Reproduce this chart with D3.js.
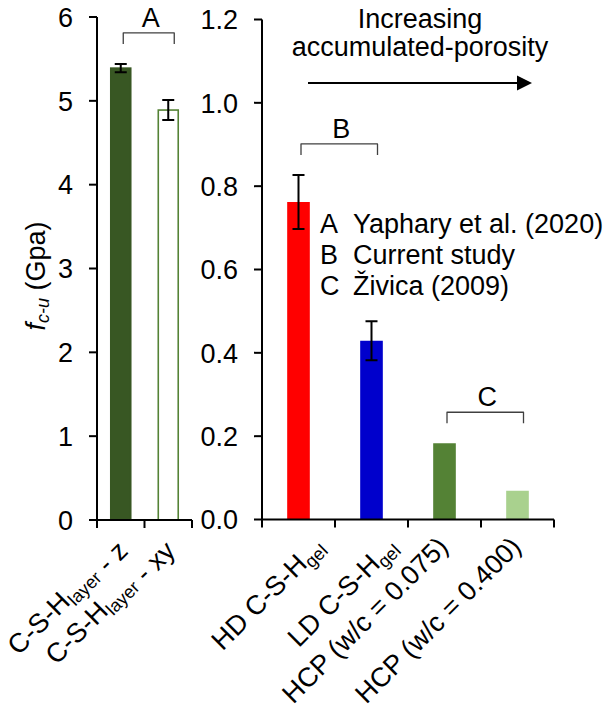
<!DOCTYPE html>
<html>
<head>
<meta charset="utf-8">
<script src="https://cdn.jsdelivr.net/npm/d3@7"></script>
<style>
  body { margin: 0; background: #fff; }
  text { font-family: 'Liberation Sans', Arial, sans-serif; fill: #000; }
</style>
</head>
<body>
<div id="chart"><svg></svg></div>
<script>
// left panel: C-S-H layer (GPa scale 0-6)
const leftCategories = ['C-S-H_{layer} - z', 'C-S-H_{layer} - xy'];
const leftValues = [5.39, 4.89];
const leftErrors = [0.05, 0.12];
const leftTicks = [0, 1, 2, 3, 4, 5, 6];

// right panel: gel / paste (scale 0-1.2)
const rightCategories = ['HD C-S-H_{gel}', 'LD C-S-H_{gel}', 'HCP (w/c = 0.075)', 'HCP (w/c = 0.400)'];
const rightValues = [0.762, 0.429, 0.183, 0.069];
const rightErrors = [0.065, 0.047, null, null];
const rightTicks = [0, 0.2, 0.4, 0.6, 0.8, 1.0, 1.2];

// source groups (bracket letters + legend)
const groupLetters = ['A', 'B', 'C'];
const groupSources = ['Yaphary et al. (2020)', 'Current study', 'Živica (2009)'];
const groupPanels = ['left', 'right', 'right'];
const groupSpans = [[0, 1], [0, 1], [2, 3]];

const leftColors = ['#385723', '#ffffff'];
const leftStrokes = ['#385723', '#548235'];
const rightColors = ['#ff0000', '#0000cc', '#548235', '#a9d18e'];

(function() {
  const width = 605;
  const height = 713;
  const fontSize = 27;
  const subSize = 18;

  const svg = d3.select('#chart svg')
    .attr('width', width)
    .attr('height', height);

  const panels = {
    left: {
      x: d3.scaleBand().domain(leftCategories).range([97, 192]),
      y: d3.scaleLinear().domain([0, 6]).range([520, 17]),
      barRatio: 0.42,
      ticks: leftTicks,
      fmt: d3.format('d'),
      values: leftValues,
      errors: leftErrors
    },
    right: {
      x: d3.scaleBand().domain(rightCategories).range([262, 554]),
      y: d3.scaleLinear().domain([0, 1.2]).range([519.5, 19.5]),
      barRatio: 0.31,
      ticks: rightTicks,
      fmt: d3.format('.1f'),
      values: rightValues,
      errors: rightErrors
    }
  };

  function center(p, i) {
    return p.x(p.x.domain()[i]) + p.x.bandwidth() / 2;
  }

  // write "abc_{sub} def" as tspans
  function richText(sel, str, italic) {
    const parts = str.split(/(_\{[^}]*\})/).filter(function(s) { return s.length; });
    parts.forEach(function(s) {
      if (s.startsWith('_{')) {
        sel.append('tspan').attr('dy', 5).style('font-size', subSize + 'px')
          .style('font-style', italic ? 'italic' : null)
          .text(s.slice(2, -1));
        sel.append('tspan').attr('dy', -5).text('');
      } else {
        sel.append('tspan').text(s);
      }
    });
    return parts;
  }

  Object.keys(panels).forEach(function(key) {
    const p = panels[key];
    const g = svg.append('g').attr('class', 'panel-' + key);
    const x0 = p.x.range()[0];
    const x1 = p.x.range()[1];
    const y0 = p.y(0);

    // bars
    g.selectAll('rect')
      .data(p.values)
      .enter()
      .append('rect')
      .attr('x', function(d, i) { return center(p, i) - p.x.bandwidth() * p.barRatio / 2; })
      .attr('y', function(d) { return p.y(d); })
      .attr('width', p.x.bandwidth() * p.barRatio)
      .attr('height', function(d) { return y0 - p.y(d); })
      .attr('fill', function(d, i) { return key === 'left' ? leftColors[i] : rightColors[i]; })
      .attr('stroke', function(d, i) { return key === 'left' ? leftStrokes[i] : 'none'; })
      .attr('stroke-width', 1.6);

    // error bars
    const err = g.append('g').attr('class', 'errors');
    p.values.forEach(function(v, i) {
      const e = p.errors[i];
      if (e == null) return;
      const cx = center(p, i);
      const path = d3.path();
      path.moveTo(cx, p.y(v - e)); path.lineTo(cx, p.y(v + e));
      path.moveTo(cx - 6, p.y(v + e)); path.lineTo(cx + 6, p.y(v + e));
      path.moveTo(cx - 6, p.y(v - e)); path.lineTo(cx + 6, p.y(v - e));
      err.append('path').attr('d', path.toString())
        .attr('stroke', '#000').attr('stroke-width', 2).attr('fill', 'none');
    });

    // y axis
    g.append('line')
      .attr('x1', x0).attr('x2', x0)
      .attr('y1', p.y(p.ticks[p.ticks.length - 1])).attr('y2', y0)
      .attr('stroke', '#000').attr('stroke-width', 2);
    g.selectAll('.ytick')
      .data(p.ticks)
      .enter()
      .append('line')
      .attr('class', 'ytick')
      .attr('x1', x0 - 8).attr('x2', x0)
      .attr('y1', function(d) { return p.y(d); })
      .attr('y2', function(d) { return p.y(d); })
      .attr('stroke', '#000').attr('stroke-width', 2);
    g.selectAll('.ylabel')
      .data(p.ticks)
      .enter()
      .append('text')
      .attr('class', 'ylabel')
      .attr('x', x0 - 24)
      .attr('y', function(d) { return p.y(d); })
      .attr('dy', '0.36em')
      .attr('text-anchor', 'end')
      .style('font-size', fontSize + 'px')
      .text(function(d) { return p.fmt(d); });

    // x axis with ticks at band edges
    g.append('line')
      .attr('x1', x0).attr('x2', x1)
      .attr('y1', y0).attr('y2', y0)
      .attr('stroke', '#000').attr('stroke-width', 2);
    const edges = d3.range(p.x.domain().length + 1).map(function(i) { return x0 + i * p.x.step(); });
    g.selectAll('.xtick')
      .data(edges)
      .enter()
      .append('line')
      .attr('class', 'xtick')
      .attr('x1', function(d) { return d; }).attr('x2', function(d) { return d; })
      .attr('y1', y0).attr('y2', y0 + 8)
      .attr('stroke', '#000').attr('stroke-width', 2);

    // rotated category labels
    p.x.domain().forEach(function(c, i) {
      const endsSub = /\}$/.test(c);
      const t = g.append('text')
        .attr('text-anchor', 'end')
        .style('font-size', fontSize + 'px')
        .attr('transform', 'translate(' + (center(p, i) + 5 + (endsSub ? 22 : 0)) + ',' + (y0 + 29) + ') rotate(-45)');
      richText(t, c, false);
    });
  });

  // brackets over source groups
  const brackets = svg.append('g').attr('class', 'brackets');
  groupLetters.forEach(function(letter, k) {
    const p = panels[groupPanels[k]];
    const span = groupSpans[k];
    let top = Infinity;
    for (let i = span[0]; i <= span[1]; i++) {
      top = Math.min(top, p.y(p.values[i] + (p.errors[i] || 0)));
    }
    const by = top - 31;
    const bx0 = center(p, span[0]) + 2.5;
    const bx1 = center(p, span[1]) + 6;
    brackets.append('path')
      .attr('d', 'M' + bx0 + ',' + (by + 11) + 'V' + by + 'H' + bx1 + 'V' + (by + 11))
      .attr('fill', 'none')
      .attr('stroke', '#404040')
      .attr('stroke-width', 1.3)
      .attr('stroke-linejoin', 'round');
    brackets.append('text')
      .attr('x', (bx0 + bx1) / 2 + 2)
      .attr('y', by - 6)
      .attr('text-anchor', 'middle')
      .style('font-size', fontSize + 'px')
      .text(letter);
  });

  // legend of sources
  const legend = svg.append('g').attr('class', 'legend');
  groupLetters.forEach(function(letter, k) {
    const t = legend.append('text')
      .attr('y', 233 + k * 31)
      .style('font-size', fontSize + 'px');
    t.append('tspan').attr('x', 320).text(letter);
    t.append('tspan').attr('x', 353).text(groupSources[k]);
  });

  // porosity arrow
  const pr = panels.right;
  const ax0 = pr.x.range()[0] + 46;
  const ax1 = pr.x.range()[1] - 22;
  const ay = 83;
  svg.append('line')
    .attr('x1', ax0).attr('x2', ax1 - 14)
    .attr('y1', ay).attr('y2', ay)
    .attr('stroke', '#000').attr('stroke-width', 1.8);
  svg.append('path')
    .attr('d', 'M' + (ax1 - 15) + ',' + (ay - 7.5) + 'L' + ax1 + ',' + ay + 'L' + (ax1 - 15) + ',' + (ay + 7.5) + 'Z')
    .attr('fill', '#000');
  const ac = (ax0 + ax1) / 2;
  svg.append('text').attr('x', ac).attr('y', 28).attr('text-anchor', 'middle')
    .style('font-size', fontSize + 'px').text('Increasing');
  svg.append('text').attr('x', ac).attr('y', 56).attr('text-anchor', 'middle')
    .style('font-size', fontSize + 'px').text('accumulated-porosity');

  // y axis title
  const yt = svg.append('text')
    .attr('text-anchor', 'middle')
    .attr('transform', 'translate(45,276) rotate(-90)')
    .style('font-size', fontSize + 'px');
  yt.append('tspan').style('font-style', 'italic').text('f');
  yt.append('tspan').attr('dy', 4).style('font-style', 'italic').style('font-size', subSize + 'px').text('c-u');
  yt.append('tspan').attr('dy', -4).text(' (Gpa)');
})();
</script>
</body>
</html>
